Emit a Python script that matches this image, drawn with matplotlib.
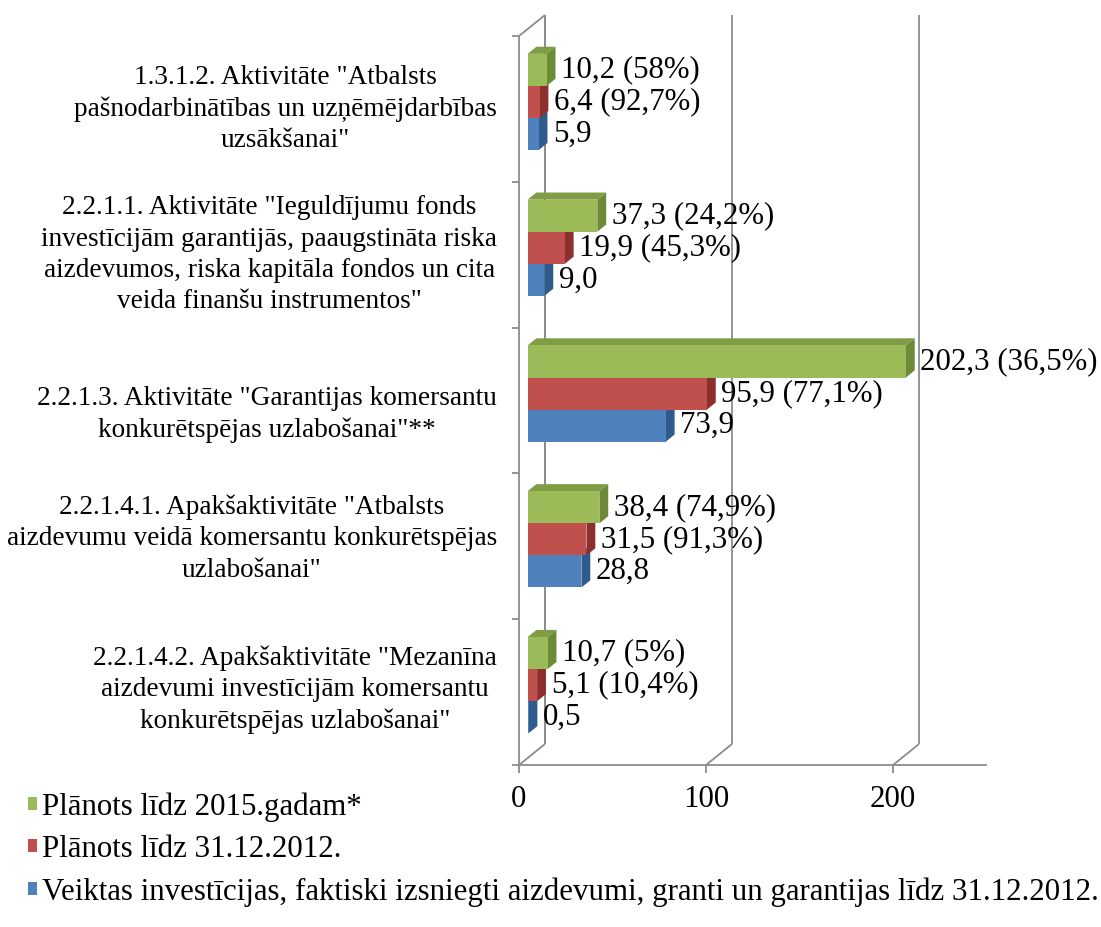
import matplotlib
matplotlib.use("Agg")
import matplotlib.pyplot as plt
from matplotlib.patches import Polygon, Patch

# ---------------- data ----------------
categories = [
    '1.3.1.2. Aktivitāte "Atbalsts\npašnodarbinātības un uzņēmējdarbības\nuzsākšanai"',
    '2.2.1.1. Aktivitāte "Ieguldījumu fonds\ninvestīcijām garantijās, paaugstināta riska\naizdevumos, riska kapitāla fondos un cita\nveida finanšu instrumentos"',
    '2.2.1.3. Aktivitāte "Garantijas komersantu\nkonkurētspējas uzlabošanai"**',
    '2.2.1.4.1. Apakšaktivitāte "Atbalsts\naizdevumu veidā komersantu konkurētspējas\nuzlabošanai"',
    '2.2.1.4.2. Apakšaktivitāte "Mezanīna\naizdevumi investīcijām komersantu\nkonkurētspējas uzlabošanai"',
]
series_names = [
    'Plānots līdz 2015.gadam*',
    'Plānots līdz 31.12.2012.',
    'Veiktas investīcijas, faktiski izsniegti aizdevumi, granti un garantijas līdz 31.12.2012.',
]
planned_2015 = [10.2, 37.3, 202.3, 38.4, 10.7]
planned_2015_pct = ['58%', '24,2%', '36,5%', '74,9%', '5%']
planned_2012 = [6.4, 19.9, 95.9, 31.5, 5.1]
planned_2012_pct = ['92,7%', '45,3%', '77,1%', '91,3%', '10,4%']
actual_2012 = [5.9, 9.0, 73.9, 28.8, 0.5]
actual_2012_pct = [None, None, None, None, None]
x_ticks = [0, 100, 200]
x_max = 250

# ---------------- style ----------------
FONT = 'Liberation Serif'
FS_CAT = 19.6
FS_LAB = 22.2
plt.rcParams['font.family'] = [FONT, 'DejaVu Serif']

colors = [  # front, top, side
    ('#9BBB59', '#7F9D45', '#6C8A37'),
    ('#C0504D', '#A03F3C', '#8C2F2D'),
    ('#4F81BD', '#3D689E', '#2E5A8E'),
]
grid_color = '#8C8C8C'

W, H = 1101, 927
fig = plt.figure(figsize=(W / 100, H / 100), dpi=100)
x0_px, y_floor_px, y_top_px = 519, 765, 36
axw_px = 467.5
ax = fig.add_axes([x0_px / W, (H - y_floor_px) / H, axw_px / W, (y_floor_px - y_top_px) / H])
n = len(categories)
ax.set_xlim(0, x_max)
ax.set_ylim(0, n)
ax.axis('off')

SX = axw_px / x_max                   # px per data unit
SY = (y_floor_px - y_top_px) / n      # px per category
DX = 26 / SX                          # depth offset in data units
DY = 21 / SY

lk = dict(color=grid_color, lw=1.3, clip_on=False, solid_capstyle='butt', zorder=1)
# front-left edge and back-left edge
ax.plot([0, 0], [0, n], **lk)
ax.plot([DX, DX], [DY, n + DY], **lk)
ax.plot([0, DX], [n, n + DY], **lk)
# floor front line
ax.plot([0, x_max], [0, 0], **lk)
for t in x_ticks:
    ax.plot([t, t + DX], [0, DY], **lk)
    ax.plot([t + DX, t + DX], [DY, n + DY], **lk)
    ax.plot([t, t], [0, -8 / SY], **lk)
    ax.annotate(str(t), (t, 0), xytext=(0, -25), textcoords='offset points',
                ha='center', va='center', fontsize=FS_LAB, family=FONT)
for k in range(n + 1):
    ax.plot([0, -7 / SX], [k, k], **lk)

# category labels
label_dy = [0.0, 0.0, -0.095, 0.053, 0.016]
for c, lab in enumerate(categories):
    yc = n - c - 0.5
    ax.text(-22 / SX, yc + label_dy[c], lab, ha='right', va='center', multialignment='center',
            fontsize=FS_CAT, family=FONT, linespacing=1.33, clip_on=False)

# bars (pseudo-3D)
series = [(planned_2015, planned_2015_pct), (planned_2012, planned_2012_pct), (actual_2012, actual_2012_pct)]
h = 0.22
f1, d = 0.33, 0.34
z = 2
for c in range(n):
    yc = n - c - 0.5
    for s in [2, 1, 0]:
        vals, pcts = series[s]
        front, top, side = colors[s]
        v = vals[c]
        xb = f1 * DX
        yb = yc + (1 - s) * h - h / 2 + f1 * DY
        ax.barh(yb + h / 2, v, height=h, left=xb, color=front, edgecolor='none',
                clip_on=False, zorder=z + 2)
        ax.add_patch(Polygon([(xb, yb + h), (xb + v, yb + h), (xb + v + d * DX, yb + h + d * DY),
                              (xb + d * DX, yb + h + d * DY)], closed=True, facecolor=top,
                             edgecolor='none', clip_on=False, zorder=z))
        ax.add_patch(Polygon([(xb + v, yb), (xb + v + d * DX, yb + d * DY),
                              (xb + v + d * DX, yb + h + d * DY), (xb + v, yb + h)], closed=True,
                             facecolor=side, edgecolor='none', clip_on=False, zorder=z + 1))
        txt = f"{v:.1f}".replace('.', ',')
        if pcts[c] is not None:
            txt += f" ({pcts[c]})"
        ax.annotate(txt, (xb + v + d * DX, yb + h / 2), xytext=(4, 0), textcoords='offset points',
                    ha='left', va='center', fontsize=FS_LAB, family=FONT, zorder=50,
                    annotation_clip=False)
        z += 3

handles = [Patch(facecolor=colors[i][0], edgecolor='none') for i in range(3)]
fig.legend(handles, series_names, loc='upper left', bbox_to_anchor=(28 / W, 1 - 792 / H),
           frameon=False, handlelength=0.28, handleheight=0.28,
           handletextpad=0.17, labelspacing=0.43, borderpad=0, borderaxespad=0,
           prop={'family': FONT, 'size': FS_LAB})

fig.savefig('out.png', dpi=100)
